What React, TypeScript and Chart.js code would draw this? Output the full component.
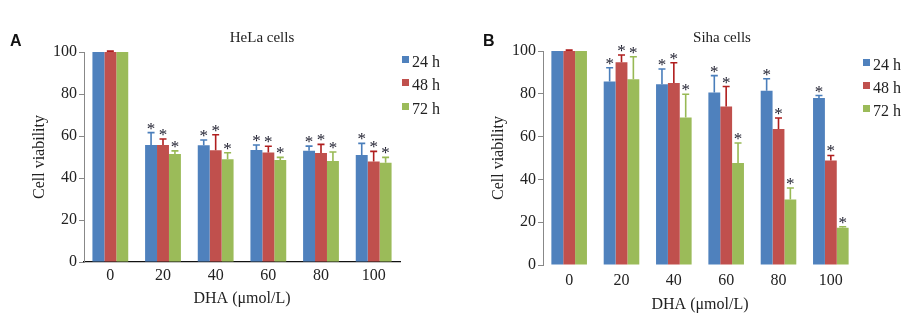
import React, { useEffect, useRef } from "react";
import { Chart, registerables } from "chart.js";

Chart.register(...registerables);

const categories = ["0", "20", "40", "60", "80", "100"];
const seriesNames = ["24 h", "48 h", "72 h"];
const seriesColors = ["#4F81BD", "#C0504D", "#9BBB59"];
const errorColors = ["#4A7EBB", "#B01E1E", "#98B954"];

// Panel A: HeLa cells
const helaH24 = [100, 55.7, 55.6, 53.3, 53.0, 51.0];
const helaH48 = [100, 55.7, 53.2, 52.2, 51.9, 47.8];
const helaH72 = [100, 51.4, 48.9, 48.6, 48.1, 47.3];
const helaSd24 = [0, 5.9, 2.5, 2.4, 2.2, 5.5];
const helaSd48 = [0.4, 2.9, 7.4, 2.9, 4.1, 4.9];
const helaSd72 = [0, 1.5, 3.1, 1.2, 4.3, 2.5];
const helaStar = [false, true, true, true, true, true];

// Panel B: Siha cells
const sihaH24 = [100, 85.7, 84.5, 80.6, 81.4, 78.0];
const sihaH48 = [100, 94.7, 85.0, 74.1, 63.5, 48.8];
const sihaH72 = [100, 86.8, 68.9, 47.7, 30.6, 17.4];
const sihaSd24 = [0, 6.5, 7.1, 7.9, 5.6, 1.2];
const sihaSd48 = [0.4, 3.4, 9.5, 9.3, 5.2, 2.4];
const sihaSd72 = [0, 10.5, 10.9, 9.3, 5.4, 0.5];
const sihaStar = [false, true, true, true, true, true];

const yTicks = [0, 20, 40, 60, 80, 100];
const SERIF = "'Liberation Serif', 'DejaVu Serif', serif";
const SANS = "'Liberation Sans', Arial, sans-serif";

type PanelProps = {
  letter: string;
  title: string;
  values: number[][];
  sds: number[][];
  stars: boolean[];
  geom: {
    padLeft: number;
    padRight: number;
    padTop: number;
    padBottom: number;
    yWidth: number;
    xHeight: number;
    xTickPad: number;
    xTitlePadBottom: number;
    xBorder: boolean;
    titleX: number;
    titleY: number;
    legendX: number;
    legendY: number[];
    letterX: number;
  };
};

function Panel({ letter, title, values, sds, stars, geom }: PanelProps) {
  const ref = useRef<HTMLCanvasElement | null>(null);
  useEffect(() => {
    if (!ref.current) return;
    const overlay = {
      id: "overlay",
      afterDatasetsDraw(chart: any) {
        const ctx = chart.ctx;
        const yScale = chart.scales.y;
        ctx.save();
        values.forEach((_s, di) => {
          const meta = chart.getDatasetMeta(di);
          meta.data.forEach((bar: any, i: number) => {
            const v = values[di][i];
            const sd = sds[di][i];
            const x = bar.x;
            const yv = yScale.getPixelForValue(v);
            const yt = yScale.getPixelForValue(v + sd);
            if (sd > 0) {
              ctx.strokeStyle = errorColors[di];
              ctx.lineWidth = 1.6;
              ctx.beginPath();
              ctx.moveTo(x, yv);
              ctx.lineTo(x, yt);
              ctx.moveTo(x - 3.5, yt);
              ctx.lineTo(x + 3.5, yt);
              ctx.stroke();
            }
            if (stars[i]) {
              ctx.fillStyle = "#1c1c2c";
              ctx.font = `17px ${SERIF}`;
              ctx.textAlign = "center";
              ctx.textBaseline = "alphabetic";
              ctx.fillText("*", x, yt + 1);
            }
          });
        });
        // title
        ctx.fillStyle = "#222";
        ctx.font = `15px ${SERIF}`;
        ctx.textAlign = "center";
        ctx.textBaseline = "middle";
        ctx.fillText(title, geom.titleX, geom.titleY);
        // panel letter
        ctx.font = `bold 16px ${SANS}`;
        ctx.textAlign = "left";
        ctx.fillStyle = "#111";
        ctx.fillText(letter, geom.letterX, 42);
        // legend
        seriesNames.forEach((n, k) => {
          const ly = geom.legendY[k];
          ctx.fillStyle = seriesColors[k];
          ctx.fillRect(geom.legendX, ly - 7, 7, 7);
          ctx.fillStyle = "#222";
          ctx.font = `16px ${SERIF}`;
          ctx.textAlign = "left";
          ctx.textBaseline = "middle";
          ctx.fillText(n, geom.legendX + 10, ly);
        });
        ctx.restore();
      },
    };
    const chart = new Chart(ref.current, {
      type: "bar",
      data: {
        labels: categories,
        datasets: values.map((d, k) => ({
          label: seriesNames[k],
          data: d,
          backgroundColor: seriesColors[k],
          borderWidth: 0,
          categoryPercentage: 0.68,
          barPercentage: 1.0,
        })),
      },
      options: {
        animation: false,
        responsive: false,
        maintainAspectRatio: false,
        devicePixelRatio: 1,
        layout: {
          padding: {
            left: geom.padLeft,
            right: geom.padRight,
            top: geom.padTop,
            bottom: geom.padBottom,
          },
        },
        plugins: {
          legend: { display: false },
          tooltip: { enabled: false },
          title: { display: false },
        },
        scales: {
          x: {
            grid: { display: false, drawTicks: false },
            border: { display: geom.xBorder, color: "#111", width: 1.2 },
            ticks: {
              color: "#222",
              font: { family: SERIF, size: 16 },
              padding: geom.xTickPad,
              maxRotation: 0,
            },
            title: {
              display: true,
              text: "DHA (μmol/L)",
              color: "#222",
              font: { family: SERIF, size: 16 },
              padding: { top: 0, bottom: geom.xTitlePadBottom },
            },
            afterFit: (s: any) => {
              s.height = geom.xHeight;
            },
          },
          y: {
            min: 0,
            max: 100,
            afterBuildTicks: (s: any) => {
              s.ticks = yTicks.map((v) => ({ value: v }));
            },
            grid: {
              display: true,
              drawOnChartArea: false,
              drawTicks: true,
              tickLength: 5,
              color: "#888",
            },
            border: { display: true, color: "#888", width: 1 },
            ticks: {
              color: "#222",
              font: { family: SERIF, size: 16 },
              padding: 2,
            },
            title: {
              display: true,
              text: "Cell viability",
              color: "#222",
              font: { family: SERIF, size: 16 },
              padding: { top: 10, bottom: 0 },
            },
            afterFit: (s: any) => {
              s.width = geom.yWidth;
            },
          },
        },
      },
      plugins: [overlay],
    });
    return () => chart.destroy();
  }, []);
  return <canvas ref={ref} width={461} height={325} style={{ display: "block", width: 461, height: 325 }} />;
}

export default function App() {
  return (
    <div
      style={{
        position: "fixed",
        left: 0,
        top: 0,
        width: 922,
        height: 325,
        background: "#fff",
        display: "flex",
      }}
    >
      <Panel
        letter="A"
        title="HeLa cells"
        values={[helaH24, helaH48, helaH72]}
        sds={[helaSd24, helaSd48, helaSd72]}
        stars={helaStar}
        geom={{
          padLeft: 20,
          padRight: 61,
          padTop: 52,
          padBottom: 10,
          yWidth: 64,
          xHeight: 53,
          xTickPad: 4,
          xTitlePadBottom: 7,
          xBorder: true,
          titleX: 262,
          titleY: 38,
          legendX: 402,
          legendY: [63, 86, 110],
          letterX: 10,
        }}
      />
      <Panel
        letter="B"
        title="Siha cells"
        values={[sihaH24, sihaH48, sihaH72]}
        sds={[sihaSd24, sihaSd48, sihaSd72]}
        stars={sihaStar}
        geom={{
          padLeft: 18,
          padRight: 65,
          padTop: 51,
          padBottom: 10,
          yWidth: 64,
          xHeight: 50,
          xTickPad: 6,
          xTitlePadBottom: 1,
          xBorder: false,
          titleX: 261,
          titleY: 38,
          legendX: 402,
          legendY: [66, 89, 112],
          letterX: 22,
        }}
      />
    </div>
  );
}
